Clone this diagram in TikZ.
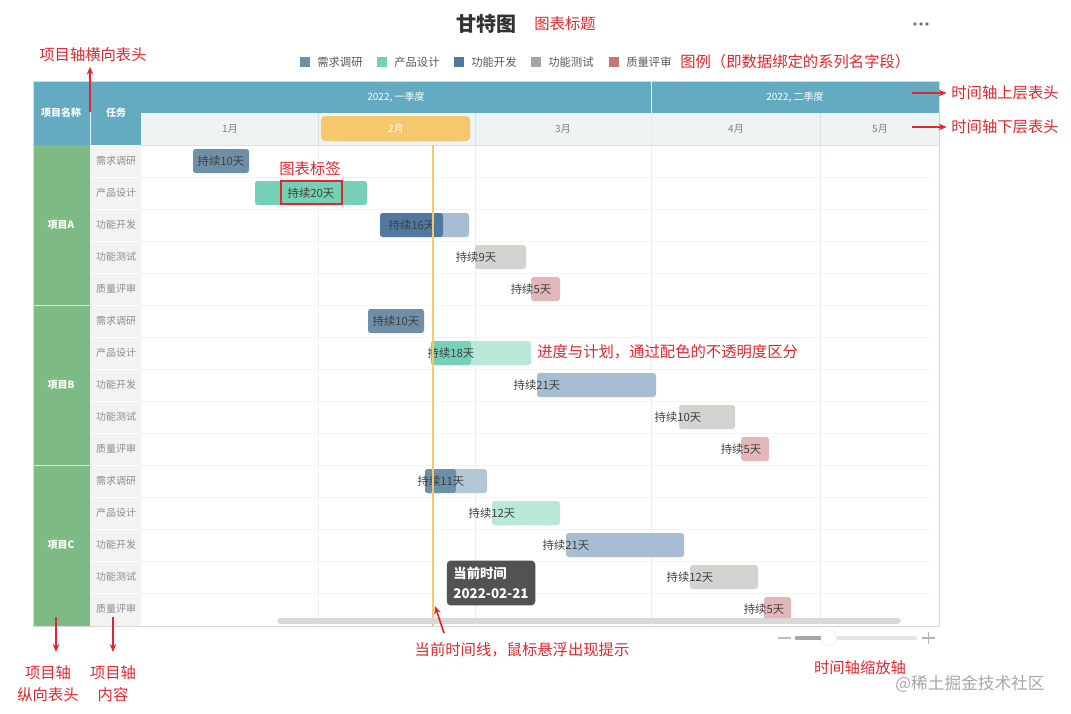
\documentclass[tikz,border=0pt]{standalone}
\usepackage{fontspec}
\setmainfont{Noto Sans CJK SC}
\usetikzlibrary{arrows.meta}
\definecolor{hdr}{HTML}{64AAC0}
\definecolor{hdrl}{HTML}{EEF3F4}
\definecolor{proj}{HTML}{7DBA84}
\definecolor{task}{HTML}{F3F3F3}
\definecolor{ann}{HTML}{E0262E}
\definecolor{cA}{HTML}{6D8FA8}
\definecolor{cB}{HTML}{76D0B6}
\definecolor{cBl}{HTML}{B8E8DA}
\definecolor{cC}{HTML}{4F79A0}
\definecolor{cCl}{HTML}{A7BDD3}
\definecolor{cAl}{HTML}{B3C6D5}
\definecolor{cD}{HTML}{A5A5A5}
\definecolor{cDl}{HTML}{D3D2CF}
\definecolor{cE}{HTML}{C87575}
\definecolor{cEl}{HTML}{E3B7B9}
\definecolor{nowc}{HTML}{F5C86E}
\definecolor{grid}{HTML}{EDEDED}
\tikzset{
 fs/.style={font=\fontsize{#1}{#1}\selectfont},
 fsb/.style={font=\fontsize{#1}{#1}\selectfont\bfseries},
 ann/.style={text=ann,fs=11.5},
 annarr/.style={draw=ann,line width=1.3pt,-{Stealth[length=6pt,width=5pt]}},
 blab/.style={text=black!75,fs=8.5,inner sep=0pt},
 tk/.style={text=black!45,fs=7.5},
 hd/.style={text=white,fsb=7.5},
 hdn/.style={text=white,fs=7.5},
 mon/.style={text=black!50,fs=7.5},
 leg/.style={text=black!65,fs=8.5,anchor=west,inner sep=0pt},
}
\begin{document}
\begin{tikzpicture}[x=0.75pt,y=-0.75pt]
\useasboundingbox (0,0) rectangle (1071,714);
\fill[white] (0,0) rectangle (1071,714);
% title
\node[fsb=15,text=black!80] (title) at (486,24) {甘特图};
\node[ann] (titleann) at (565,24) {图表标题};
\foreach \k in {0,1,2} \fill[black!55] (915+6*\k,24) circle (1.8);
% legend
\foreach \x/\c/\t [count=\i] in {305/cA/需求调研,382/cB/产品设计,459/cC/功能开发,536/cD/功能测试,614/cE/质量评审}{
 \fill[\c] (\x-5,57) rectangle (\x+5,67);
 \node[leg] (leg\i) at (\x+12,62) {\t};}
\node[ann,anchor=west,inner sep=0pt] (legann) at (680,62) {图例（即数据绑定的系列名字段）};
% grid body
\foreach \x in {318,475,651,820} \draw[grid] (\x,145) -- (\x,626);
\foreach \i in {1,...,14} \draw[grid!60] (141,145+32*\i) -- (930,145+32*\i);
% header
\fill[hdr] (33,81) rectangle (939,113);
\fill[hdr] (33,113) rectangle (141,145);
\fill[hdrl] (141,113) rectangle (939,145);
\draw[white!80!hdr] (90,81) -- (90,145) (651,81) -- (651,145);
\draw[black!12] (318,113) -- (318,145) (475,113) -- (475,145) (820,113) -- (820,145) (141,145) -- (939,145);
\node[hd] (h1) at (61,113) {项目名称};
\node[hd] (h2) at (116,113) {任务};
\node[hdn] (q1) at (396,97) {2022, 一季度};
\node[hdn] (q2) at (795,97) {2022, 二季度};
\fill[nowc,rounded corners=3pt] (321,116) rectangle (470,141);
\node[mon] (m1) at (230,129) {1月};
\node[hdn] (m2) at (396,129) {2月};
\node[mon] (m3) at (563,129) {3月};
\node[mon] (m4) at (736,129) {4月};
\node[mon] (m5) at (880,129) {5月};
% project / task columns
\fill[proj] (33,145) rectangle (90,626);
\draw[white!70!proj] (33,305) -- (90,305) (33,465) -- (90,465);
\fill[task] (90,145) rectangle (141,626);
\node[hd] (pA) at (61,225) {项目A};
\node[hd] (pB) at (61,385) {项目B};
\node[hd] (pC) at (61,545) {项目C};
\foreach \p in {0,1,2}{
 \foreach \t [count=\j from 0] in {需求调研,产品设计,功能开发,功能测试,质量评审}{
  \pgfmathtruncatemacro\rr{5*\p+\j}
  \draw[white] (90,145+32*\rr) -- (141,145+32*\rr);
  \node[tk] (t\rr) at (116,161+32*\rr) {\t};}}
\draw[black!15] (33,81) rectangle (939,626);
% bars (plan): row/start/end/colour
\foreach \rr/\xa/\xb/\cl in {
 0/193/249/cA, 1/255/367/cB, 2/380/469/cCl,
 3/475/526/cDl, 4/531/560/cEl,
 5/368/424/cA, 6/431/531/cBl, 7/537/656/cCl,
 8/679/735/cDl, 9/741/769/cEl,
 10/425/487/cAl, 11/492/560/cBl, 12/566/684/cCl,
 13/690/758/cDl, 14/764/791/cEl}{
 \fill[\cl,rounded corners=2pt] (\xa,149+32*\rr) rectangle (\xb,173+32*\rr);}
% progress parts
\fill[cC,rounded corners=2pt] (380,213) rectangle (443,237);
\fill[cB,rounded corners=2pt] (431,341) rectangle (471,365);
\fill[cA,rounded corners=2pt] (425,469) rectangle (456,493);
\foreach \rr/\lx/\dd in {0/221/10,1/311/20,2/412/16,3/476/9,4/531/5,5/396/10,6/451/18,7/537/21,8/678/10,9/741/5,10/441/11,11/492/12,12/566/21,13/690/12,14/764/5}{
 \node[blab] (bar\rr) at (\lx,161+32*\rr) {持续\dd{}天};}
% current line
\draw[nowc,line width=2.2pt] (433,145) -- (433,626);
\coordinate (nowb) at (435,606);
% scrollbar
\draw[black!15,line width=4pt,line cap=round] (280,621) -- (898,621);
% red label box
\draw[draw=ann,line width=1.2pt] (281,181) rectangle (342,204);
\node[ann] (lbl) at (310,169) {图表标签};
\node[ann,anchor=west,inner sep=0pt] (prog) at (537,352) {进度与计划，通过配色的不透明度区分};
% tooltip
\node[fill=black!68,rounded corners=3pt,text=white,fsb=10,align=left,inner sep=5pt] (tip) at (491,583) {当前时间\\[5pt]2022-02-21};
% zoom slider
\draw[black!25,line width=1.3pt] (778,638) -- (791,638);
\draw[black!10,line width=3.5pt,line cap=round] (797,638) -- (915,638);
\draw[black!35,line width=3.5pt,line cap=round] (797,638) -- (822,638);
\node[circle,fill=white,draw=black!8,minimum size=12pt,inner sep=0pt] (knob) at (829,638) {};
\draw[black!30,line width=1.3pt] (922,638) -- (935,638) (928.5,632) -- (928.5,644);
\node[ann] (zoomann) at (860,668) {时间轴缩放轴};
\node[text=black!35,fs=12.5] (wm) at (970,684) {@稀土掘金技术社区};
% annotations
\node[ann] (a1) at (93,55) {项目轴横向表头};
\coordinate (a1s) at (90,112);
\draw[annarr] (a1s) -- (a1.south -| a1s);
\node[ann] (a2) at (1005,93) {时间轴上层表头};
\node[ann] (a3) at (1005,127) {时间轴下层表头};
\coordinate (a2s) at (912,93); \coordinate (a3s) at (912,127);
\draw[annarr] (a2s) -- (a2.west);
\draw[annarr] (a3s) -- (a3.west);
\node[ann,align=center] (a4) at (48,684) {项目轴\\[5pt]纵向表头};
\node[ann,align=center] (a5) at (113,684) {项目轴\\[5pt]内容};
\coordinate (a4s) at (56,617); \coordinate (a5s) at (113,617);
\draw[annarr] (a4s) -- (56,652);
\draw[annarr] (a5s) -- (113,652);
\node[ann] (a6) at (522,650) {当前时间线，鼠标悬浮出现提示};
\coordinate (a6s) at (444,633);
\draw[annarr] (a6s) -- (nowb);
\end{tikzpicture}
\end{document}
